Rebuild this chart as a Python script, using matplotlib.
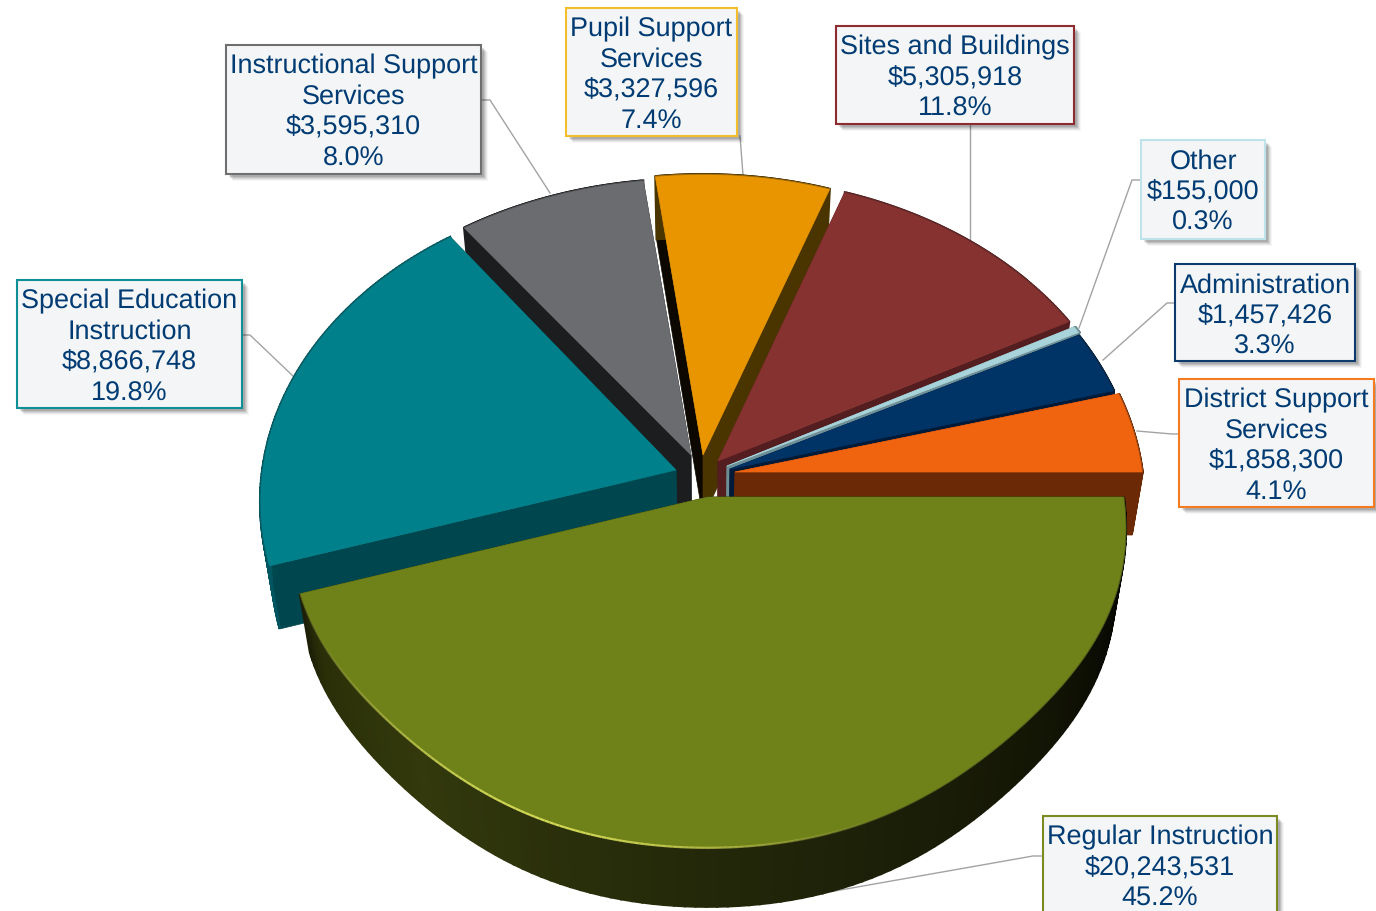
import numpy as np
import matplotlib
matplotlib.use("Agg")
import matplotlib.pyplot as plt
from matplotlib.patches import Polygon, Rectangle
from matplotlib.collections import LineCollection
from matplotlib.colors import to_rgb

# data, in the order the pie runs (clockwise from 3 o'clock)
categories = ["Regular Instruction", "Special Education\nInstruction", "Instructional Support\nServices",
              "Pupil Support\nServices", "Sites and Buildings", "Other", "Administration",
              "District Support\nServices"]
amounts = [20243531, 8866748, 3595310, 3327596, 5305918, 155000, 1457426, 1858300]

# look of each slice
top_colors = ["#6F8119", "#00808A", "#6B6C6F", "#E89500", "#863230", "#A9D3DB", "#003366", "#F06410"]
start_face = ["#000000", "#00464E", "#1C1D1F", "#0C0800", "#541E20", "#6E8F96", "#001A38", "#6B2A05"]
end_face = ["#1D2006", "#00464E", "#1C1D1F", "#4A3500", "#541E20", "#6E8F96", "#001A38", "#6B2A05"]
rim_face = ["#23280A", "#005660", "#1C1D1F", "#4A3500", "#541E20", "#6E8F96", "#001A38", "#6B2A05"]
origins = [(708, 497), (676, 470), (691, 455), (703, 455), (718, 461), (727, 466), (730, 469), (735, 472)]
scale_x = [1.0, 0.995, 1.0, 1.0, 1.0, 0.99, 0.98, 0.98]
scale_y = [1.012, 1.0, 0.975, 0.99, 1.0, 1.0, 1.0, 1.0]
flatten = [0.025, 0, 0, 0, 0, 0, 0, 0]
depths = [59, 63, 63, 63, 63, 63, 63, 63]
border_colors = ["#7C8A22", "#0E8E96", "#6F6F6F", "#F3BE2C", "#8E2B2E", "#BFE3EB", "#0D3B6E", "#F47B20"]
boxes = [(1043, 816, 1277, 925), (17, 280, 242, 408), (226, 45, 481, 174), (566, 8, 737, 136),
         (836, 26, 1074, 124), (1141, 140, 1265, 239), (1175, 264, 1355, 361), (1179, 379, 1374, 507)]
leaders = [[(1043, 856), (1033, 856), (778, 901)],
           [(242, 335), (250, 335), (293, 376)],
           [(481, 100), (490, 100), (550, 193)],
           [(740, 136), (743, 175)],
           [(970, 124), (970, 240)],
           [(1141, 180), (1132, 180), (1079, 328)],
           [(1175, 303), (1167, 303), (1103, 360)],
           [(1179, 434), (1172, 434), (1137, 431)]]

# pie shape
RX, RY, PERSP = 416, 312, 0.1
SHRINK, CX = 0.975, 705
TEXT_COLOR = "#003B73"

plt.rcParams["font.family"] = ["Liberation Sans", "DejaVu Sans"]
plt.rcParams["text.hinting"] = "no_hinting"
plt.rcParams["text.hinting_factor"] = 1

fig = plt.figure(figsize=(13.76, 9.11), dpi=100)
ax = fig.add_axes([0, 0, 1, 1])
ax.set_xlim(0, 1376)
ax.set_ylim(911, 0)
ax.axis("off")


def top_points(i, angles):
	den = 1 - PERSP * np.sin(angles)
	squeeze = 1 - flatten[i] * np.sin(2 * angles) ** 4
	x = origins[i][0] + RX * scale_x[i] * squeeze * np.cos(angles) / den
	y = origins[i][1] + RY * scale_y[i] * squeeze * np.sin(angles) / den
	return np.column_stack([x, y])


def lower(points, depth):
	points = np.atleast_2d(points)
	return np.column_stack([CX + (points[:, 0] - CX) * SHRINK, points[:, 1] + depth])


def mix(c1, c2, f):
	return tuple(np.array(to_rgb(c1)) * (1 - f) + np.array(to_rgb(c2)) * f)


def face(points, color, z, lw=0.5):
	ax.add_patch(Polygon(points, closed=True, facecolor=color, edgecolor=color, lw=lw, zorder=z))


def main_rim_color(deg):
	stops = [0, 40, 90, 130, 155, 163]
	cols = ["#000000", "#141605", "#23280A", "#33390C", "#2A2F08", "#1A1C05"]
	i = np.searchsorted(stops, deg, side="right") - 1
	i = min(max(i, 0), len(stops) - 2)
	return mix(cols[i], cols[i + 1], (deg - stops[i]) / (stops[i + 1] - stops[i]))


total = sum(amounts)
edges = np.concatenate([[0], np.cumsum(amounts)]) / total * 2 * np.pi

# leader lines sit behind the pie
for line in leaders:
	xs, ys = zip(*line)
	ax.plot(xs, ys, color="#A3A3A3", lw=1.0, zorder=1)

# back slices first, the big front slice last
draw_order = [2, 3, 4, 5, 6, 7, 1, 0]
for n, i in enumerate(draw_order):
	z = 2 + n
	t = np.linspace(edges[i], edges[i + 1], 120)
	arc = top_points(i, t)
	o = np.array([origins[i]], dtype=float)
	low_o = lower(o, depths[i])
	low_arc = lower(arc, depths[i])
	# radial faces
	face(np.vstack([o, arc[:1], low_arc[:1], low_o]), start_face[i], z)
	face(np.vstack([o, arc[-1:], low_arc[-1:], low_o]), end_face[i], z)
	# outer rim
	for j in range(len(t) - 1):
		if i == 0:
			col = main_rim_color(np.degrees(t[j]))
		else:
			col = rim_face[i]
		face(np.vstack([arc[j:j + 2], low_arc[j:j + 2][::-1]]), col, z, lw=1.5)
	# top
	face(np.vstack([o, arc]), top_colors[i], z + 0.5)
	ax.plot(arc[:, 0], arc[:, 1], color="#222222", alpha=0.3, lw=0.8, zorder=z + 0.6)

# bevel light on the front slice
t = np.linspace(np.radians(60), edges[1], 150)
arc = top_points(0, t)
segs = np.stack([arc[:-1], arc[1:]], axis=1)
rgba = [(0.85, 0.88, 0.35, 0.95 * np.sin(np.pi * k / len(segs)) ** 1.5) for k in range(len(segs))]
ax.add_collection(LineCollection(segs, colors=rgba, linewidths=1.6, zorder=20))

# label boxes
for i, name in enumerate(categories):
	x0, y0, x1, y1 = boxes[i]
	for k, sh in enumerate([7, 6, 5, 4, 3]):
		ax.add_patch(Rectangle((x0 + sh, y0 + sh), x1 - x0, y1 - y0, facecolor="#000000",
		                       alpha=0.035 + 0.02 * k, edgecolor="none", zorder=29))
	ax.add_patch(Rectangle((x0, y0), x1 - x0, y1 - y0, facecolor="#F4F5F6",
	                       edgecolor=border_colors[i], lw=1.5, zorder=30))
	label = "%s\n\\$%s\n%.1f%%" % (name, format(amounts[i], ","), amounts[i] / total * 100)
	for k, line in enumerate(label.split("\n")):
		ax.text((x0 + x1) / 2, y0 + 18.7 + k * 30.6, line, color=TEXT_COLOR, fontsize=19.3,
		        ha="center", va="center_baseline", zorder=31)

fig.savefig("out.png", dpi=100)
